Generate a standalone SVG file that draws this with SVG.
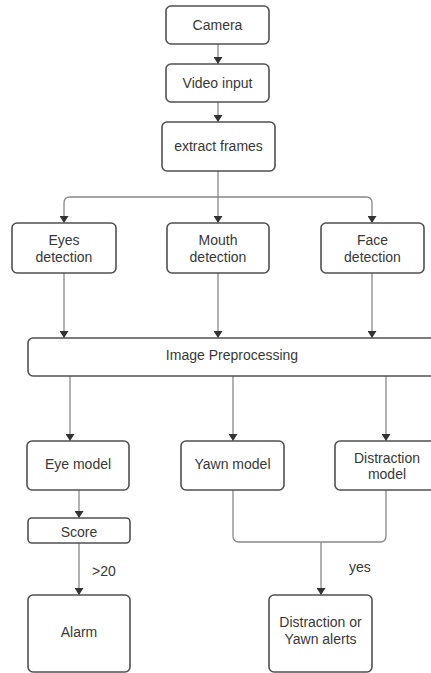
<svg xmlns="http://www.w3.org/2000/svg" width="431" height="673" viewBox="0 0 431 673">
<defs>
<marker id="arr" markerWidth="8" markerHeight="9" refX="7" refY="4.5" orient="auto" markerUnits="userSpaceOnUse"><path d="M0,0 L7,4.5 L0,9 Z" fill="#333"/></marker>
<style>
.box{fill:#fff;stroke:#505050;stroke-width:1.6}
.t{font-family:"Liberation Sans",Arial,sans-serif;font-size:14px;fill:#383838;text-anchor:middle}
.l{font-family:"Liberation Sans",Arial,sans-serif;font-size:14px;fill:#383838}
.c{fill:none;stroke:#888;stroke-width:1.3}
.a{marker-end:url(#arr)}
</style>
</defs>
<rect width="431" height="673" fill="#fff"/>
<g id="connectors">
<path class="c a" d="M218,44 V64"/>
<path class="c a" d="M218,102 V122"/>
<path class="c a" d="M218,171 V223"/>
<path class="c a" d="M218,197 H70 Q64,197 64,203 V223"/>
<path class="c a" d="M218,197 H366 Q372,197 372,203 V223"/>
<path class="c a" d="M64,273 V338"/>
<path class="c a" d="M218,273 V338"/>
<path class="c a" d="M372,273 V338"/>
<path class="c a" d="M70,376 V441"/>
<path class="c a" d="M233,376 V441"/>
<path class="c a" d="M386,376 V441"/>
<path class="c a" d="M79,490 V518"/>
<path class="c a" d="M79,543 V595"/>
<path class="c" d="M233,490 V536 Q233,542 239,542 H380 Q386,542 386,536 V490"/>
<path class="c a" d="M321,542 V595"/>
<text class="l" x="92" y="576">&gt;20</text>
<text class="l" x="349" y="572">yes</text>
</g>
<g id="camera"><rect class="box" x="166" y="6" width="103" height="38" rx="5"/><text class="t" x="217.5" y="30">Camera</text></g>
<g id="video"><rect class="box" x="166" y="64" width="103" height="38" rx="5"/><text class="t" x="217.5" y="88">Video input</text></g>
<g id="extract"><rect class="box" x="162" y="122" width="113" height="49" rx="5"/><text class="t" x="218.5" y="151">extract frames</text></g>
<g id="eyes"><rect class="box" x="12" y="223" width="104" height="50" rx="5"/><text class="t" x="64" y="245">Eyes</text><text class="t" x="64" y="262">detection</text></g>
<g id="mouth"><rect class="box" x="167" y="223" width="102" height="50" rx="5"/><text class="t" x="218" y="245">Mouth</text><text class="t" x="218" y="262">detection</text></g>
<g id="face"><rect class="box" x="321" y="223" width="103" height="50" rx="5"/><text class="t" x="372.5" y="245">Face</text><text class="t" x="372.5" y="262">detection</text></g>
<g id="preproc"><rect class="box" x="28" y="338" width="410" height="38" rx="5"/><text class="t" x="232" y="360">Image Preprocessing</text></g>
<g id="eyemodel"><rect class="box" x="27" y="441" width="102" height="49" rx="5"/><text class="t" x="78" y="469">Eye model</text></g>
<g id="yawnmodel"><rect class="box" x="181" y="441" width="103" height="49" rx="5"/><text class="t" x="232.5" y="469">Yawn model</text></g>
<g id="distmodel"><rect class="box" x="335" y="441" width="102" height="49" rx="5"/><text class="t" x="387" y="463">Distraction</text><text class="t" x="387" y="479">model</text></g>
<g id="score"><rect class="box" x="28" y="518" width="102" height="25" rx="4"/><text class="t" x="79" y="537">Score</text></g>
<g id="alarm"><rect class="box" x="28" y="595" width="102" height="77" rx="5"/><text class="t" x="79" y="637">Alarm</text></g>
<g id="alerts"><rect class="box" x="269" y="595" width="103" height="77" rx="5"/><text class="t" x="320.5" y="627">Distraction or</text><text class="t" x="320.5" y="644">Yawn alerts</text></g>
</svg>
